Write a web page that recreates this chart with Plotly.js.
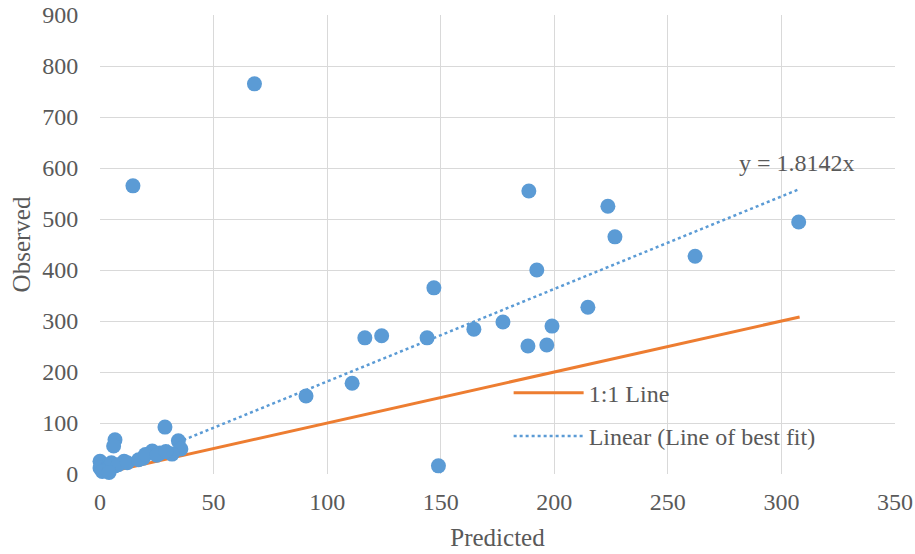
<!DOCTYPE html>
<html><head><meta charset="utf-8">
<script src="https://cdn.plot.ly/plotly-3.0.1.min.js"></script>
<style>html,body{margin:0;padding:0;background:#fff}#chart{width:915px;height:554px}</style>
</head><body><div id="chart"></div>
<script>
// Observed vs predicted points
const predicted = [14.5, 68, 90.7, 111, 116.6, 124, 144, 147, 149, 164.6, 177.4, 188.8, 188.4, 192.3, 196.7, 199, 214.8, 223.6, 226.7, 262, 307.6,
  28.6, 34.5, 35.6, 31.7, 26.4, 23, 19, 10.6, 6.6, 6.6, 6, 0, 0, 2, 3.5, 5, 8, 12, 17, 20, 25, 29, 1, 4];
const observed  = [565, 765, 153, 178, 267, 271, 267, 365, 16, 284, 298, 555, 251, 400, 253, 290, 327, 525, 465, 427, 494,
  92, 65, 49, 39, 41, 45, 31, 25, 16, 67, 55, 25, 12, 8, 12, 22, 18, 22, 28, 38, 37, 44, 5, 3];
const slope = 1.8142;
const lineX = [0, 308];
const oneToOneY = [0, 308];
const fitY = [slope * lineX[0], slope * lineX[1]];
const xTicks = [0, 50, 100, 150, 200, 250, 300, 350];
const yTicks = [0, 100, 200, 300, 400, 500, 600, 700, 800, 900];

const FONT = 'Times New Roman';
const GREY = '#595959';

const traces = [
  {x: lineX, y: fitY, mode: 'lines', name: 'Linear (Line of best fit)', legend: 'legend2',
   line: {color: '#5b9bd5', width: 2.5, dash: 'dot'}},
  {x: lineX, y: oneToOneY, mode: 'lines', name: '1:1 Line', legend: 'legend',
   line: {color: '#ed7d31', width: 3}},
  {x: predicted, y: observed, mode: 'markers', name: 'Observed', showlegend: false, cliponaxis: false,
   marker: {color: '#5b9bd5', size: 15}}
];

const layout = {
  width: 915, height: 554,
  margin: {l: 100, r: 20, t: 15, b: 80},
  paper_bgcolor: '#fff', plot_bgcolor: '#fff',
  font: {family: FONT, color: GREY, size: 24},
  showlegend: true,
  xaxis: {range: [0, 350], tickvals: xTicks,
          showgrid: true, gridcolor: '#d9d9d9', gridwidth: 1,
          zeroline: false, showline: false, ticks: 'outside', ticklen: 6, tickcolor: 'rgba(0,0,0,0)',
          tickfont: {size: 24, color: GREY, family: FONT},
          title: {text: 'Predicted', font: {size: 25, color: GREY, family: FONT}, standoff: 14}},
  yaxis: {range: [0, 900], tickvals: yTicks,
          showgrid: true, gridcolor: '#d9d9d9', gridwidth: 1,
          zeroline: false, showline: false, ticks: 'outside', ticklen: 16, tickcolor: 'rgba(0,0,0,0)',
          tickfont: {size: 24, color: GREY, family: FONT},
          title: {text: 'Observed', font: {size: 25, color: GREY, family: FONT}, standoff: 4}},
  legend: {x: 0.514, y: 0.176, xanchor: 'left', yanchor: 'middle', bgcolor: 'rgba(0,0,0,0)', itemwidth: 70,
           font: {size: 24, color: GREY, family: FONT}},
  legend2: {x: 0.514, y: 0.082, xanchor: 'left', yanchor: 'middle', bgcolor: 'rgba(0,0,0,0)', itemwidth: 70,
           font: {size: 24, color: GREY, family: FONT}},
  annotations: [{x: 306.8, y: 610, xref: 'x', yref: 'y', text: 'y = 1.8142x', showarrow: false,
                 font: {size: 24, color: GREY, family: FONT}}]
};

Plotly.newPlot('chart', traces, layout, {displayModeBar: false, staticPlot: true});
</script></body></html>
